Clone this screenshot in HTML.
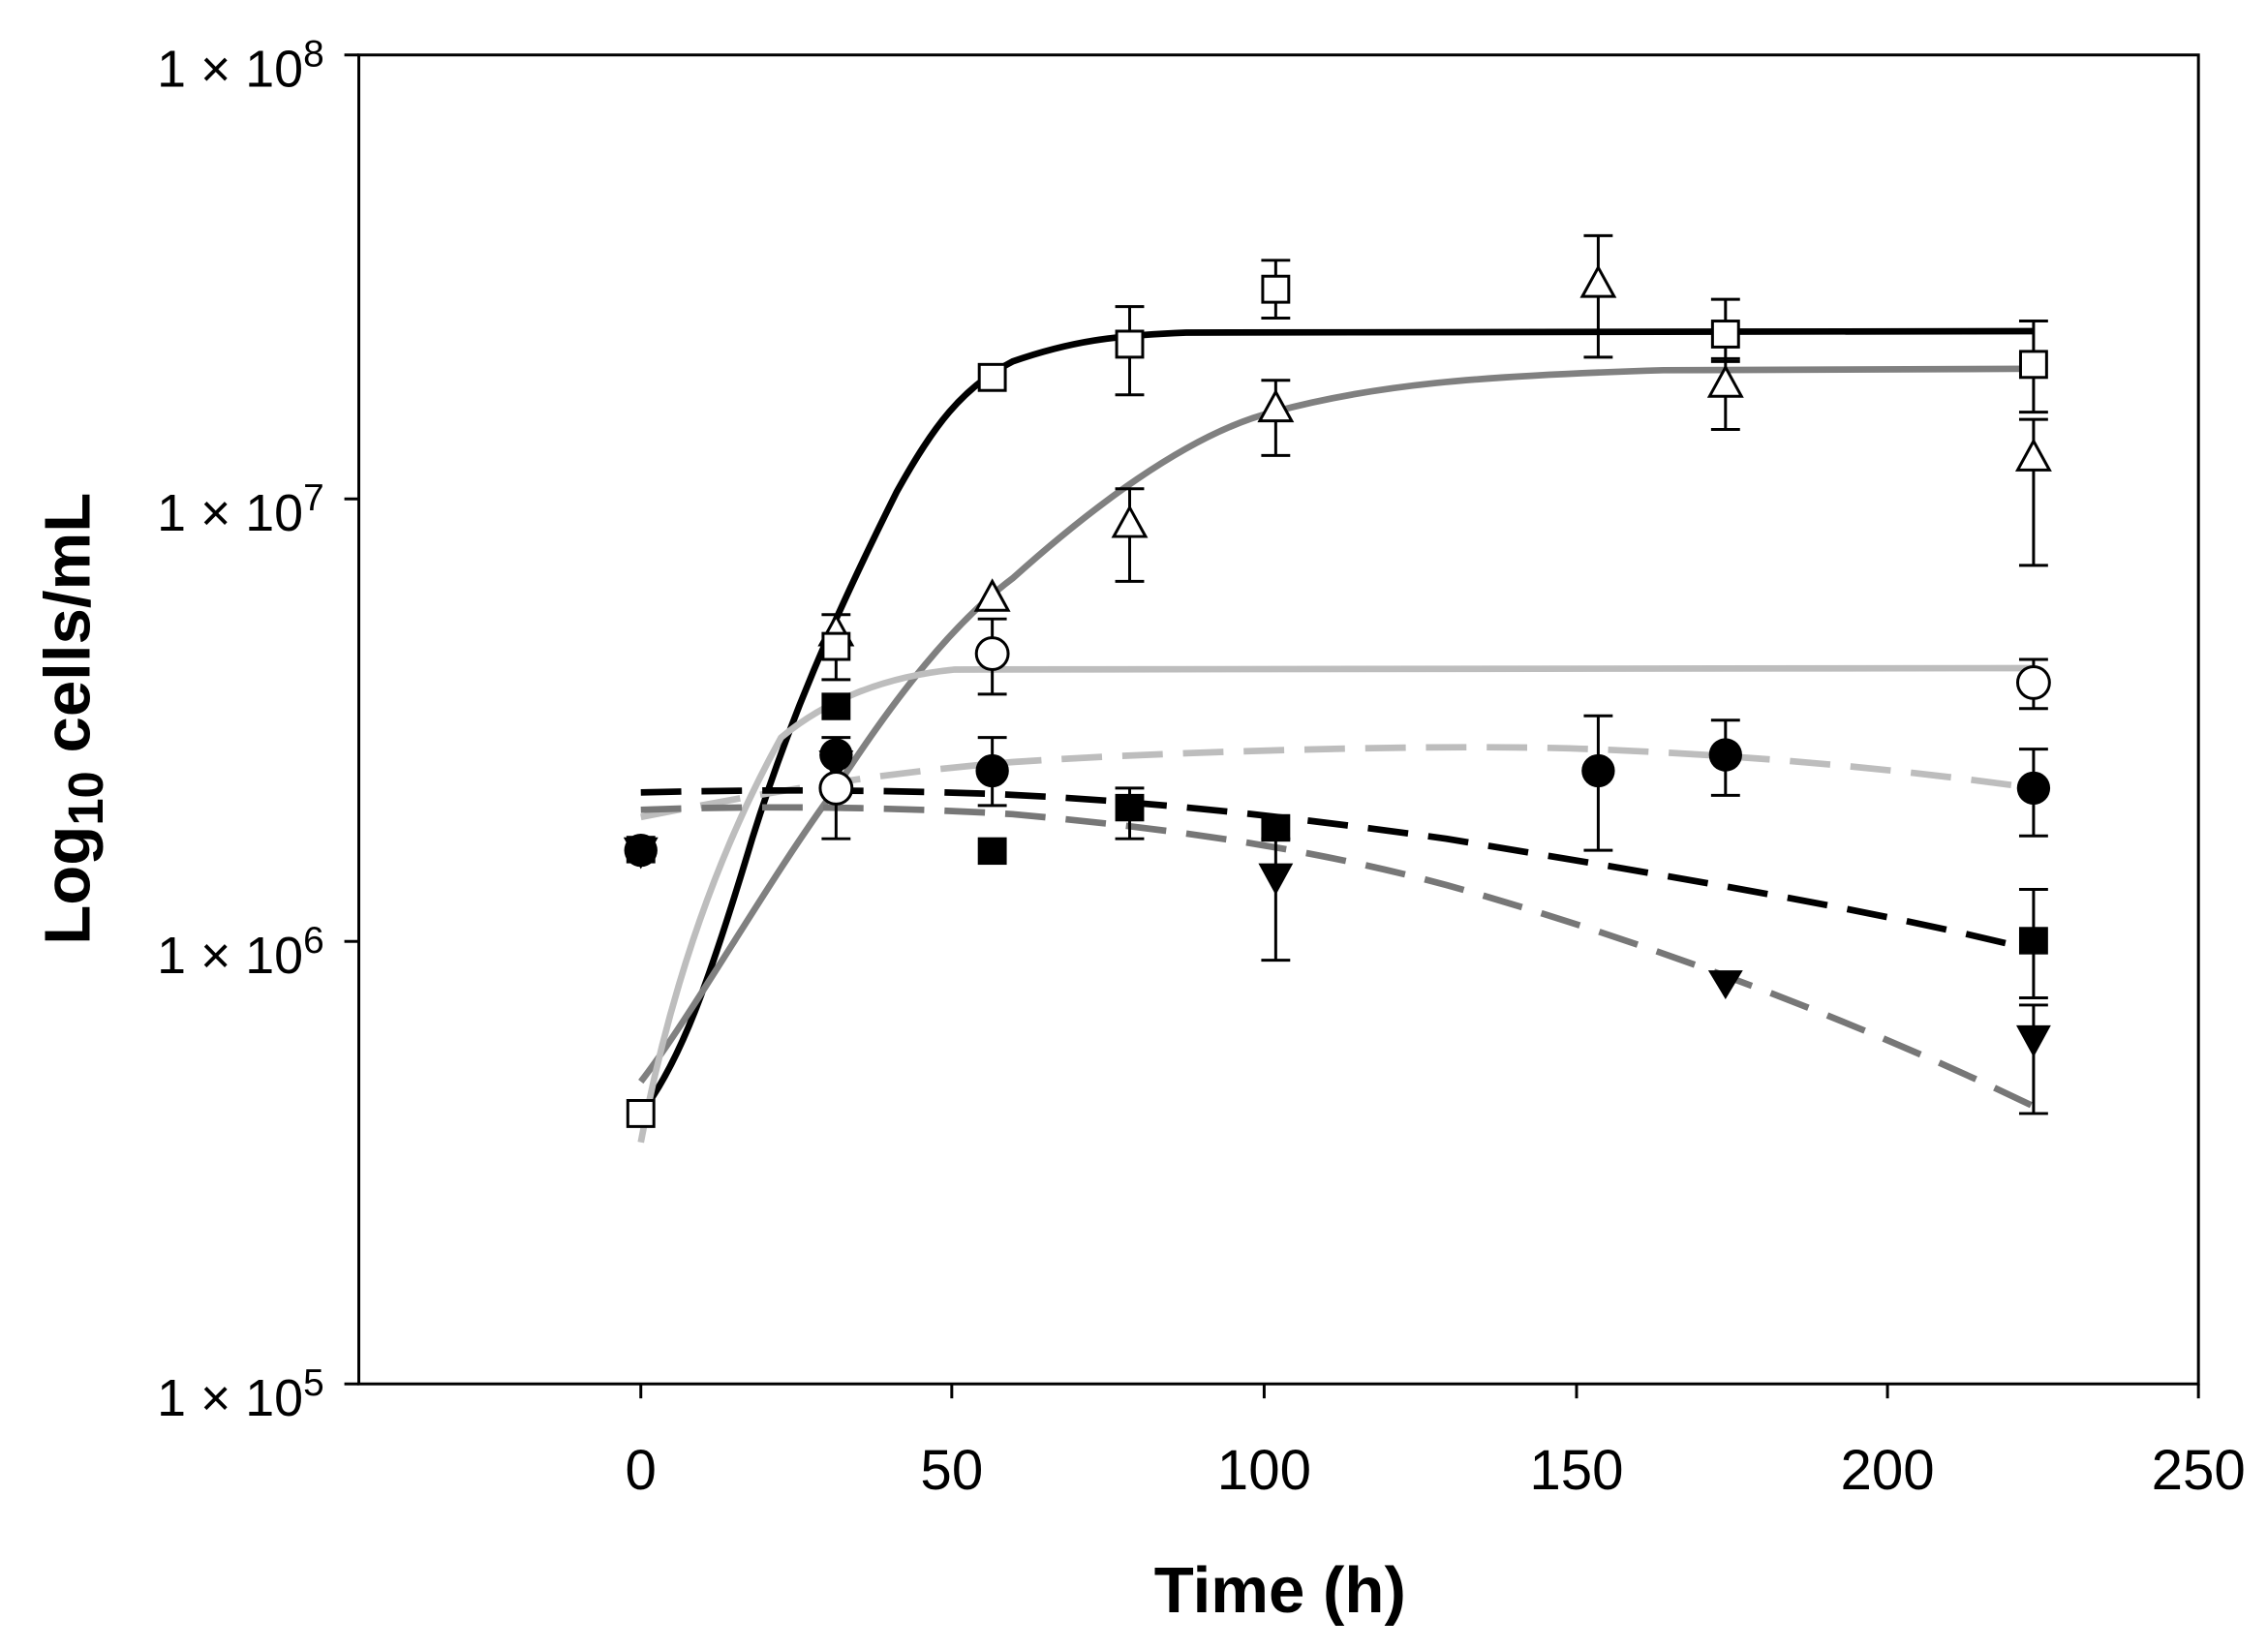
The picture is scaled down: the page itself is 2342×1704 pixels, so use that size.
<!DOCTYPE html>
<html><head><meta charset="utf-8"><style>html,body{margin:0;padding:0;background:#fff}svg{display:block}</style></head>
<body>
<svg width="2342" height="1704" viewBox="0 0 1568 1141" xmlns="http://www.w3.org/2000/svg" font-family="Liberation Sans, Arial, sans-serif">
<rect width="1568" height="1141" fill="#fff"/>
<rect x="248" y="38" width="1272" height="919" fill="none" stroke="#000" stroke-width="2"/>
<g stroke="#000" stroke-width="2">
<line x1="238" y1="38" x2="248" y2="38"/><line x1="238" y1="345" x2="248" y2="345"/><line x1="238" y1="651" x2="248" y2="651"/><line x1="238" y1="957" x2="248" y2="957"/>
<line x1="443" y1="957" x2="443" y2="967"/><line x1="658" y1="957" x2="658" y2="967"/><line x1="874" y1="957" x2="874" y2="967"/><line x1="1090" y1="957" x2="1090" y2="967"/><line x1="1305" y1="957" x2="1305" y2="967"/><line x1="1520" y1="957" x2="1520" y2="967"/>
</g>
<g font-size="36" text-anchor="end" fill="#000">
<text x="224" y="60">1 × 10<tspan font-size="26" dy="-14">8</tspan></text>
<text x="224" y="367">1 × 10<tspan font-size="26" dy="-14">7</tspan></text>
<text x="224" y="673">1 × 10<tspan font-size="26" dy="-14">6</tspan></text>
<text x="224" y="979">1 × 10<tspan font-size="26" dy="-14">5</tspan></text>
</g>
<g font-size="39" text-anchor="middle" fill="#000">
<text x="443" y="1030">0</text><text x="658" y="1030">50</text><text x="874" y="1030">100</text><text x="1090" y="1030">150</text><text x="1305" y="1030">200</text><text x="1520" y="1030">250</text>
</g>
<text x="885" y="1115" font-size="45" font-weight="bold" text-anchor="middle">Time (h)</text>
<text transform="translate(62,497) rotate(-90)" font-size="45" font-weight="bold" text-anchor="middle">Log<tspan font-size="34" dy="9">10</tspan><tspan dy="-9"> cells/mL</tspan></text>
<g fill="none" stroke-linejoin="round" stroke-linecap="butt" stroke-width="4.5">
<path stroke="#000" d="M443,770 C470,735 490,680 520,580 C545,500 575,430 620,340 C645,295 665,268 700,250 C740,236 770,232 820,230 L1406,229"/>
<path stroke="#808080" d="M443,748 C480,700 530,610 578,545 C620,480 660,430 700,400 C750,355 820,300 880,285 C950,266 1020,260 1150,256 L1406,255"/>
<path stroke="#bdbdbd" d="M443,790 C460,700 490,600 540,510 C570,485 610,468 660,463 L1406,462"/>
<path stroke="#bdbdbd" stroke-dasharray="28,14" d="M443,565 C520,550 600,535 700,527 C800,520 1000,514 1100,518 C1200,522 1300,530 1406,545"/>
<path stroke="#000" stroke-dasharray="28,14" d="M443,548 C520,546 600,546 686,549 C780,553 880,563 1000,580 C1150,605 1300,630 1406,657"/>
<path stroke="#777" stroke-dasharray="28,14" d="M443,560 C520,557 620,558 700,563 C800,572 900,585 1000,612 C1100,640 1250,690 1406,765"/>
</g>
<g stroke="#000" stroke-width="2" fill="none">
<path d="M578,425V470M568,425H588M568,470H588"/>
<path d="M781,212V273M771,212H791M771,273H791"/>
<path d="M882,180V220M872,180H892M872,220H892"/>
<path d="M1193,207V250M1183,207H1203M1183,250H1203"/>
<path d="M1406,222V285M1396,222H1416M1396,285H1416"/>
<path d="M781,338V402M771,338H791M771,402H791"/>
<path d="M882,263V315M872,263H892M872,315H892"/>
<path d="M1105,163V247M1095,163H1115M1095,247H1115"/>
<path d="M1193,248V297M1183,248H1203M1183,297H1203"/>
<path d="M1406,290V391M1396,290H1416M1396,391H1416"/>
<path d="M686,428V480M676,428H696M676,480H696"/>
<path d="M1406,456V490M1396,456H1416M1396,490H1416"/>
<path d="M1105,495V588M1095,495H1115M1095,588H1115"/>
<path d="M1193,498V550M1183,498H1203M1183,550H1203"/>
<path d="M1406,518V578M1396,518H1416M1396,578H1416"/>
<path d="M686,510V557M676,510H696M676,557H696"/>
<path d="M781,545V580M771,545H791M771,580H791"/>
<path d="M1406,615V690M1396,615H1416M1396,690H1416"/>
<path d="M882,580V664M872,580H892M872,664H892"/>
<path d="M1406,695V770M1396,695H1416M1396,770H1416"/>
<path d="M578,510V580M568,510H588M568,580H588"/>
</g>
<g fill="#000">
<path d="M431,579L455,579L443,601Z"/><path d="M566,519L590,519L578,541Z"/><path d="M870,597L894,597L882,619Z"/><path d="M1181,671L1205,671L1193,691Z"/><path d="M1394,709L1418,709L1406,731Z"/>
<rect x="433" y="578" width="20" height="19"/><rect x="568" y="479" width="20" height="19"/><rect x="676" y="579" width="20" height="19"/><rect x="771" y="549" width="20" height="19"/><rect x="872" y="563" width="20" height="19"/><rect x="1396" y="641" width="20" height="19"/>
<circle cx="443" cy="588" r="11.5"/><circle cx="578" cy="522" r="11.5"/><circle cx="686" cy="533" r="11.5"/><circle cx="1105" cy="533" r="11.5"/><circle cx="1193" cy="522" r="11.5"/><circle cx="1406" cy="545" r="11.5"/>
</g>
<g fill="#fff" stroke="#000" stroke-width="2">
<circle cx="578" cy="545" r="11"/><circle cx="686" cy="452" r="11"/><circle cx="1406" cy="472" r="11"/>
<path d="M578,426L589,446L567,446Z"/><path d="M686,402L697,422L675,422Z"/><path d="M781,351L792,371L770,371Z"/><path d="M882,271L893,291L871,291Z"/><path d="M1105,185L1116,205L1094,205Z"/><path d="M1193,254L1204,274L1182,274Z"/><path d="M1406,305L1417,325L1395,325Z"/>
<rect x="434" y="761" width="18" height="18"/><rect x="569" y="438" width="18" height="18"/><rect x="677" y="252" width="18" height="18"/><rect x="772" y="229" width="18" height="18"/><rect x="873" y="191" width="18" height="18"/><rect x="1184" y="222" width="18" height="18"/><rect x="1397" y="243" width="18" height="18"/>
</g>
</svg>
</body></html>
